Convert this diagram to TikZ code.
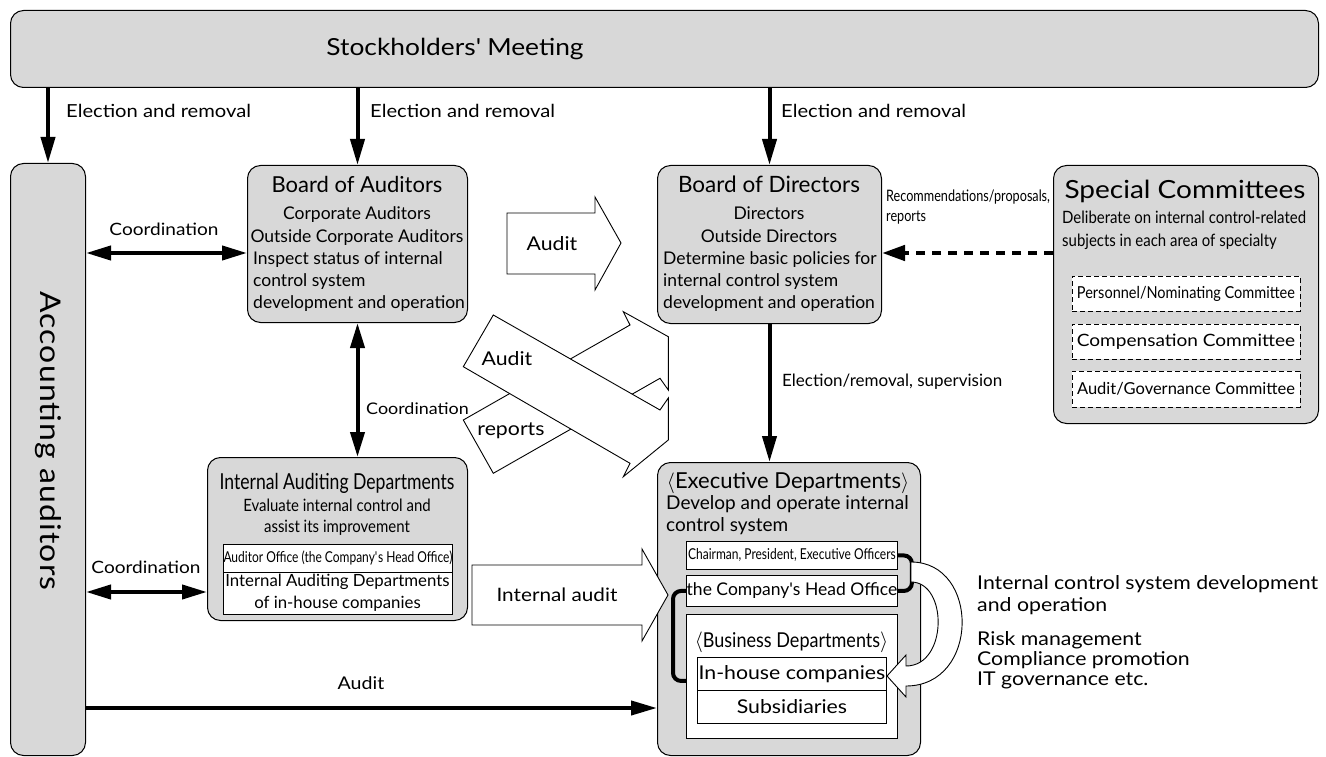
\documentclass[tikz,border=0pt]{standalone}
\usepackage{fontspec}
\setmainfont{Lato}
\newfontfamily\widef[FakeStretch=1.12]{Lato}
\newfontfamily\cond[FakeStretch=0.8]{Lato}
\newfontfamily\condb[FakeStretch=0.88]{Lato}
\newfontfamily\accf[FakeStretch=1.12,LetterSpace=4]{Lato}
\usetikzlibrary{arrows.meta}
\newcommand\fsz[1]{\fontsize{#1}{#1}\selectfont}
\definecolor{boxgray}{RGB}{216,216,216}
\tikzset{
  gbox/.style={draw=black, line width=1pt, fill=boxgray, rounded corners=13pt, inner sep=0pt},
  wbox/.style={draw=black, line width=0.9pt, fill=white, inner sep=0pt},
  dbox/.style={draw=black, line width=0.9pt, dash pattern=on 5pt off 3pt, fill=white, inner sep=0pt},
  txt/.style={inner sep=0pt, text=black},
  heavy/.style={line width=4pt, -{Triangle[length=26pt,width=14pt]}},
  heavytwo/.style={line width=4pt, {Triangle[length=25pt,width=14pt]}-{Triangle[length=25pt,width=14pt]}},
  dasharrow/.style={line width=4.5pt, dash pattern=on 9pt off 7pt, -{Triangle[length=23pt,width=15pt]}},
  hollow/.style={draw=black, line width=0.9pt, fill=white, line join=miter},
  bracket/.style={line width=4pt, rounded corners=8pt},
}
\begin{document}
\begin{tikzpicture}[x=1pt,y=-1pt]
\useasboundingbox (0,0) rectangle (1326,757);

% ---------- boxes ----------
\node[gbox, anchor=north west, minimum width=1308pt, minimum height=77pt] (sm) at (10,10) {};
\node[gbox, anchor=north west, minimum width=75pt, minimum height=592pt] (acc) at (10,163) {};
\node[gbox, anchor=north west, minimum width=220pt, minimum height=157pt] (boa) at (247,165) {};
\node[gbox, anchor=north west, minimum width=224pt, minimum height=158pt] (bod) at (657,165) {};
\node[gbox, anchor=north west, minimum width=265pt, minimum height=258pt] (spc) at (1053,165) {};
\node[gbox, anchor=north west, minimum width=260pt, minimum height=163pt] (iad) at (207,457) {};
\node[gbox, anchor=north west, minimum width=263pt, minimum height=293pt] (exe) at (657,462) {};

% ---------- texts in boxes ----------
\node[txt, font=\widef\fsz{23.5}, anchor=base] (smt) at (455,56) {Stockholders\textquotesingle{} Meeting};
\node[txt, font=\accf\fsz{28.5}, rotate=-90] (acct) at (48,441) {Accounting auditors};

\node[txt, font=\fsz{22}, anchor=base] (boat) at (357,193) {Board of Auditors};
\node[txt, font=\fsz{17.5}, anchor=base] (boa1) at (357,219) {Corporate Auditors};
\node[txt, font=\fsz{17.5}, anchor=base] (boa2) at (357,242) {Outside Corporate Auditors};
\node[txt, font=\fsz{17.5}, anchor=base west] (boa3) at (253,264) {Inspect status of internal};
\node[txt, font=\fsz{17.5}, anchor=base west] (boa4) at (253,286) {control system};
\node[txt, font=\fsz{17.5}, anchor=base west] (boa5) at (253,308) {development and operation};

\node[txt, font=\fsz{22.5}, anchor=base] (bodt) at (769,193) {Board of Directors};
\node[txt, font=\fsz{17.5}, anchor=base] (bod1) at (769,219) {Directors};
\node[txt, font=\fsz{17.5}, anchor=base] (bod2) at (769,242) {Outside Directors};
\node[txt, font=\fsz{17.5}, anchor=base west] (bod3) at (663,264) {Determine basic policies for};
\node[txt, font=\fsz{17.5}, anchor=base west] (bod4) at (663,286) {internal control system};
\node[txt, font=\fsz{17.5}, anchor=base west] (bod5) at (663,308) {development and operation};

\node[txt, font=\widef\fsz{25}, anchor=base] (spct) at (1185,199) {Special Committees};
\node[txt, font=\condb\fsz{17}, anchor=base west] (spc1) at (1062,223) {Deliberate on internal control-related};
\node[txt, font=\condb\fsz{17}, anchor=base west] (spc2) at (1062,246) {subjects in each area of specialty};
\node[dbox, minimum width=228pt, minimum height=35pt, font=\condb\fsz{16.5}] (pnc) at (1186,293.5) {Personnel/Nominating Committee};
\node[dbox, minimum width=228pt, minimum height=35pt, font=\widef\fsz{17}] (cc) at (1186,341.5) {Compensation Committee};
\node[dbox, minimum width=228pt, minimum height=36pt, font=\fsz{16.5}] (agc) at (1186,389) {Audit/Governance Committee};

\node[txt, font=\cond\fsz{22}, anchor=base] (iadt) at (337,489) {Internal Auditing Departments};
\node[txt, font=\condb\fsz{17}, anchor=base] (iad1) at (337,511) {Evaluate internal control and};
\node[txt, font=\condb\fsz{17}, anchor=base] (iad2) at (337,532) {assist its improvement};
\node[wbox, anchor=north west, minimum width=229pt, minimum height=28pt, font=\cond\fsz{15}] (aof) at (223,544) {Auditor Office (the Company\textquotesingle s Head Office)};
\node[wbox, anchor=north west, minimum width=229pt, minimum height=42pt] (iadin) at (223,572) {};
\node[txt, font=\fsz{16.8}, anchor=base] (iad3) at (337.5,586) {Internal Auditing Departments};
\node[txt, font=\fsz{16.8}, anchor=base] (iad4) at (337.5,608) {of in-house companies};

\node[txt, font=\fsz{22}, anchor=base] (exet) at (788,488) {$\langle$Executive Departments$\rangle$};
\node[txt, font=\fsz{19}, anchor=base west] (exe1) at (666,509) {Develop and operate internal};
\node[txt, font=\fsz{19}, anchor=base west] (exe2) at (666,531) {control system};
\node[wbox, anchor=north west, minimum width=211pt, minimum height=28pt, font=\cond\fsz{15}] (chr) at (686,541) {Chairman, President, Executive Officers};
\node[wbox, anchor=north west, minimum width=211pt, minimum height=31pt, font=\fsz{17.5}] (hoff) at (686,575) {the Company\textquotesingle s Head Office};
\node[wbox, anchor=north west, minimum width=211pt, minimum height=124pt] (bus) at (686,614) {};
\node[txt, font=\condb\fsz{20.5}, anchor=base] (bust) at (791.5,647) {$\langle$Business Departments$\rangle$};
\node[wbox, anchor=north west, minimum width=189pt, minimum height=33pt, font=\widef\fsz{19}] (ihc) at (697,657) {In-house companies};
\node[wbox, anchor=north west, minimum width=189pt, minimum height=33pt, font=\widef\fsz{19}] (sub) at (697,690) {Subsidiaries};

% ---------- connectors ----------
\draw[heavy] (sm.south -| acc.north) -- (acc.north);
\draw[heavy] (sm.south -| boa.north) -- (boa.north);
\draw[heavy] (sm.south -| bod.north) -- (bod.north);
\node[txt, font=\widef\fsz{18}, anchor=base west] (el1) at (66,118) {Election and removal};
\node[txt, font=\widef\fsz{18}, anchor=base west] (el2) at (370,118) {Election and removal};
\node[txt, font=\widef\fsz{18}, anchor=base west] (el3) at (781,118) {Election and removal};

\coordinate (c1) at (boa.west |- 0,253);
\draw[heavytwo] (c1 -| acc.east) -- (c1);
\node[txt, font=\widef\fsz{17}, anchor=base] (co1) at (164,235) {Coordination};

\coordinate (c2) at (iad.west |- 0,592);
\draw[heavytwo] (c2 -| acc.east) -- (c2);
\node[txt, font=\widef\fsz{17}, anchor=base] (co2) at (146,573) {Coordination};

\draw[heavytwo] (boa.south) -- (boa.south |- iad.north);
\node[txt, font=\widef\fsz{16}, anchor=base west] (co3) at (366,414) {Coordination};

\coordinate (rc) at (bod.east |- 0,253);
\draw[dasharrow] (rc -| spc.west) -- (rc);
\node[txt, font=\cond\fsz{15.8}, anchor=base west] (rec1) at (886,201) {Recommendations/proposals,};
\node[txt, font=\cond\fsz{15.8}, anchor=base west] (rec2) at (886,222) {reports};

\draw[heavy] (bod.south) -- (bod.south |- exe.north);
\node[txt, font=\fsz{17}, anchor=base west] (ers) at (782,386) {Election/removal, supervision};

\coordinate (ab) at (exe.west |- 0,708);
\draw[heavy] (acc.east |- ab) -- (ab);
\node[txt, font=\widef\fsz{17.5}, anchor=base] (aud3) at (361,689) {Audit};

% big hollow arrows
\draw[hollow] (507,213) -- (595,213) -- (595,197) -- (621,243) -- (595,290) -- (595,274) -- (507,274) -- cycle;
\node[txt, font=\widef\fsz{19}, anchor=base] (aud1) at (552,250) {Audit};

\draw[hollow] (493.3,473.3) -- (463.3,420) -- (630,325) -- (623.3,311.7) -- (668.3,336.7) -- (668.3,390) -- (660,378.3) -- cycle;
\draw[hollow] (493.3,315) -- (660,410) -- (668.3,398) -- (668.3,440) -- (623.3,476.7) -- (630,463.3) -- (463.3,366.7) -- cycle;
\node[txt, font=\widef\fsz{19}, anchor=base] (aud2) at (507,365) {Audit};
\node[txt, font=\widef\fsz{19}, anchor=base] (rep) at (511,435) {reports};

\draw[hollow] (472,565) -- (642,565) -- (642,549) -- (668,595) -- (642,641) -- (642,625) -- (472,625) -- cycle;
\node[txt, font=\widef\fsz{18.5}, anchor=base] (ia) at (557,601) {Internal audit};

% brackets
\draw[bracket] (hoff.west) -- ++(-13,0) -- ++(0,90) -- ++(13,0);
\draw[bracket] (chr.east) -- ++(14,0) -- ++(0,35.5) -- ++(-14,0);

% curved hollow arrow
\draw[hollow] (911,562) .. controls (980,562) and (980,686) .. (906,686) -- (906,697) -- (887,676) -- (906,655) -- (906,666) .. controls (948,666) and (948,582) .. (911,582) -- cycle;

% right texts
\node[txt, font=\widef\fsz{19}, anchor=base west] (r1) at (977,589) {Internal control system development};
\node[txt, font=\widef\fsz{19}, anchor=base west] (r2) at (977,611) {and operation};
\node[txt, font=\widef\fsz{19}, anchor=base west] (r3) at (977,645) {Risk management};
\node[txt, font=\widef\fsz{19}, anchor=base west] (r4) at (977,665) {Compliance promotion};
\node[txt, font=\widef\fsz{19}, anchor=base west] (r5) at (977,685) {IT governance etc.};
\end{tikzpicture}
\end{document}
